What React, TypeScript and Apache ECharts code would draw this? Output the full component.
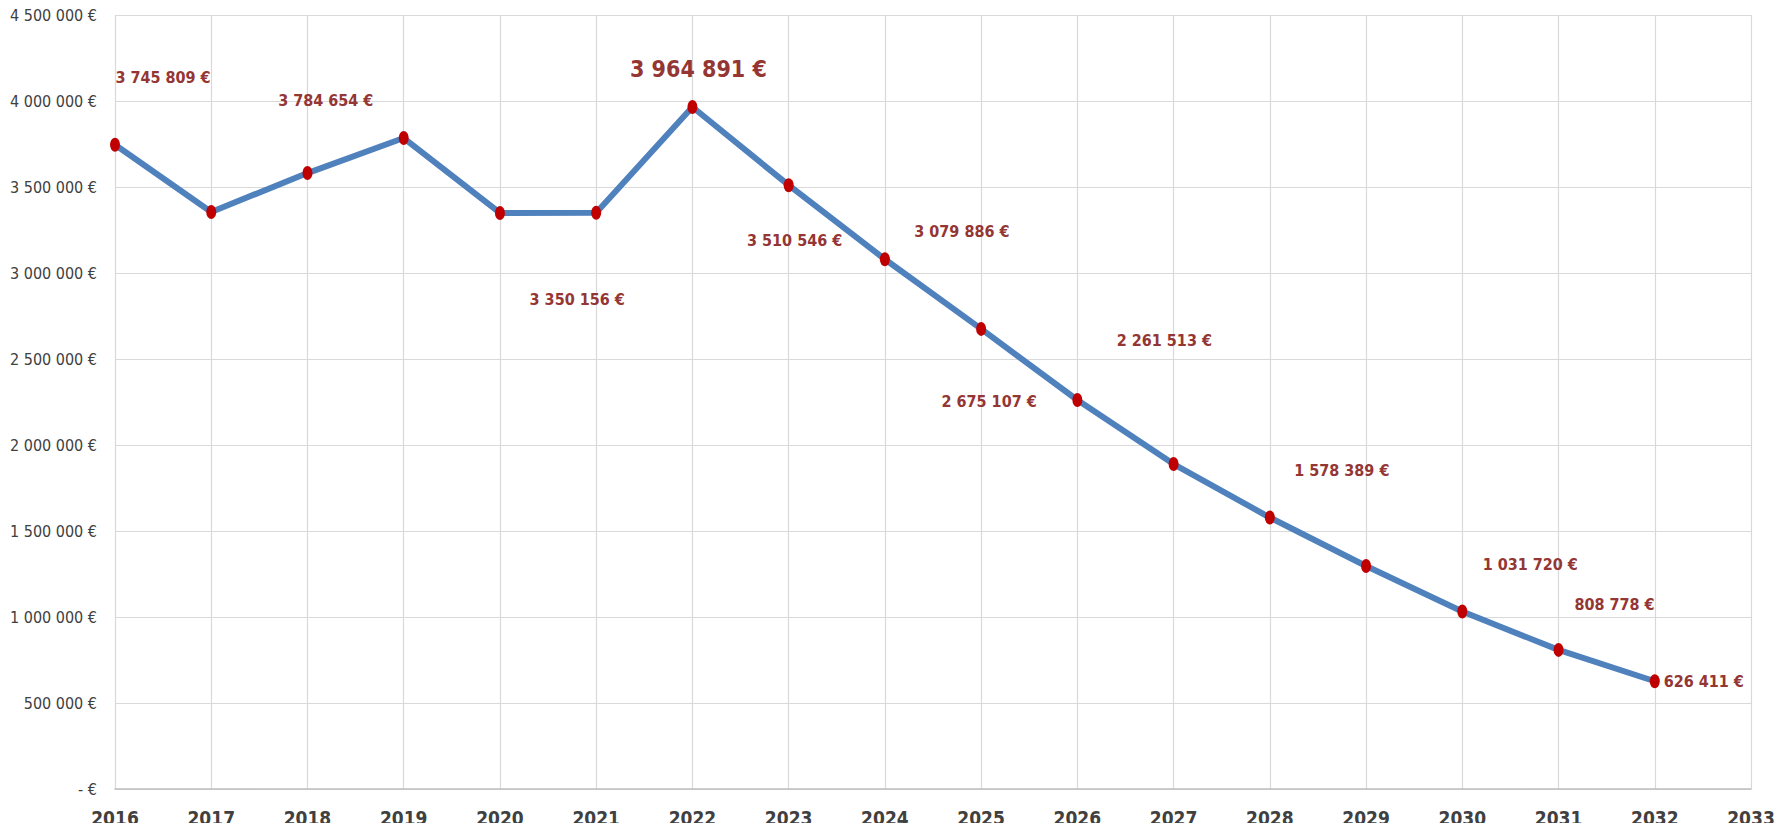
import React, { useEffect, useRef } from "react";
import * as echarts from "echarts";

const years = ["2016","2017","2018","2019","2020","2021","2022","2023","2024","2025","2026","2027","2028","2029","2030","2031","2032","2033"];
const values: (number | null)[] = [3745809, 3355000, 3581000, 3784654, 3349000, 3350156, 3964891, 3510546, 3079886, 2675107, 2261513, 1889500, 1578389, 1296500, 1031720, 808778, 626411, null];
// which points carry a label (index) and where that label sits relative to the point
const labelOffsets: Record<number, [number, number]> = {
  0: [48, -67],
  3: [-78, -38],
  5: [-19, 87],
  6: [6, -38],
  7: [6, 55],
  8: [77, -28],
  9: [8, 73],
  10: [87, -60],
  12: [72, -47],
  14: [68, -47],
  15: [56, -45],
};
const rightLabelIndex = 16;
const bigLabelIndex = 6;

const FONT = "'Liberation Sans Narrow', 'DejaVu Sans Condensed', 'Liberation Sans', sans-serif";

function fmt(v: number): string {
  if (v === 0) return "- €";
  return String(Math.round(v)).replace(/\B(?=(\d{3})+(?!\d))/g, " ") + " €";
}

export default function App() {
  const ref = useRef<HTMLDivElement>(null);
  useEffect(() => {
    if (!ref.current) return;
    const chart = echarts.init(ref.current, undefined, { renderer: "svg" });
    const data = values.map((v, i) => {
      if (v === null) return null;
      const item: any = { value: v };
      if (labelOffsets[i]) {
        item.label = {
          show: true,
          position: "inside",
          align: "center",
          verticalAlign: "middle",
          offset: labelOffsets[i],
          fontSize: i === bigLabelIndex ? 23 : 16,
        };
      } else if (i === rightLabelIndex) {
        item.label = { show: true, position: "right", distance: 4, fontSize: 16 };
      }
      return item;
    });
    chart.setOption({
      animation: false,
      backgroundColor: "#ffffff",
      grid: { left: 115, right: 36, top: 15, bottom: 42, containLabel: false },
      xAxis: {
        type: "category",
        data: years,
        boundaryGap: false,
        axisLine: { show: true, lineStyle: { color: "#BFBFBF", width: 1.5 } },
        axisTick: { show: false },
        splitLine: { show: true, lineStyle: { color: "#D9D9D9", width: 1.2 } },
        axisLabel: {
          color: "#404040",
          fontFamily: FONT,
          fontWeight: "bold",
          fontSize: 19,
          margin: 19,
          interval: 0,
        },
      },
      yAxis: {
        type: "value",
        min: 0,
        max: 4500000,
        interval: 500000,
        axisLine: { show: false },
        axisTick: { show: false },
        splitLine: { show: true, lineStyle: { color: "#D9D9D9", width: 1.2 } },
        axisLabel: {
          color: "#404040",
          fontFamily: FONT,
          fontSize: 16,
          margin: 18,
          formatter: (v: number) => fmt(v),
        },
      },
      series: [
        {
          type: "line",
          data,
          symbol: "path://M0,-1A1,1 0 1,1 0,1A1,1 0 1,1 0,-1Z",
          symbolSize: [10, 14],
          showAllSymbol: true,
          itemStyle: { color: "#C00000" },
          lineStyle: { color: "#4F81BD", width: 6 },
          label: {
            show: false,
            color: "#943634",
            fontFamily: FONT,
            fontWeight: "bold",
            fontSize: 16,
            formatter: (p: any) => fmt(p.value),
          },
          z: 3,
        },
      ],
    });
    return () => chart.dispose();
  }, []);
  return <div ref={ref} style={{ width: 1787, height: 831, margin: -8 }} />;
}
